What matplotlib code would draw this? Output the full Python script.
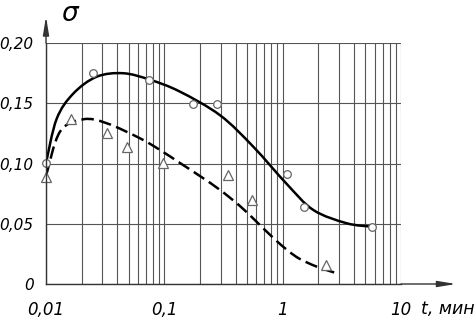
import numpy as np
import matplotlib
matplotlib.use("Agg")
import matplotlib.pyplot as plt
from matplotlib.path import Path
from matplotlib.patches import PathPatch
from matplotlib.ticker import FixedLocator, LogLocator, NullFormatter

# --- measured points (t, min ; sigma) ---
t_circles = [0.01, 0.0251, 0.0747, 0.173, 0.277, 1.08, 1.50, 5.67]
s_circles = [0.1005, 0.175, 0.1693, 0.149, 0.149, 0.091, 0.0637, 0.0476]

t_triangles = [0.01, 0.0162, 0.0326, 0.0481, 0.0981, 0.348, 0.548, 2.31]
s_triangles = [0.0885, 0.1367, 0.1256, 0.114, 0.1002, 0.0905, 0.0697, 0.0158]

# --- fitted curves ---
t_solid = [0.01, 0.0123, 0.0170, 0.0268, 0.0450, 0.0757, 0.1357, 0.296,
           0.565, 1.083, 1.818, 3.482, 5.67]
s_solid = [0.1004, 0.137, 0.158, 0.172, 0.1749, 0.1695, 0.1596, 0.140,
           0.1139, 0.083, 0.0614, 0.0504, 0.0476]

t_dashed = [0.01, 0.01313, 0.0207, 0.0326, 0.0623, 0.0920, 0.1357, 0.200,
            0.296, 0.436, 0.604, 0.834, 1.117, 1.403, 1.942, 2.866]
s_dashed = [0.0896, 0.1264, 0.1367, 0.1334, 0.1209, 0.1112, 0.1004, 0.0896,
            0.0780, 0.0647, 0.0515, 0.0382, 0.0274, 0.0207, 0.0144, 0.0089]

x_ticks = [0.01, 0.1, 1, 10]
x_labels = ["0,01", "0,1", "1", "10"]
y_ticks = [0, 0.05, 0.10, 0.15, 0.20]
y_labels = ["0", "0,05", "0,10", "0,15", "0,20"]


def smooth_path(t, s):
    # bezier through the read points, built in (log t, s) space
    u = np.log10(t)
    v = np.asarray(s)
    verts = [(u[0], v[0])]
    codes = [Path.MOVETO]
    n = len(u)
    for i in range(n - 1):
        i0, i3 = max(i - 1, 0), min(i + 2, n - 1)
        c1 = (u[i] + (u[i + 1] - u[i0]) / 6, v[i] + (v[i + 1] - v[i0]) / 6)
        c2 = (u[i + 1] - (u[i3] - u[i]) / 6, v[i + 1] - (v[i3] - v[i]) / 6)
        verts += [c1, c2, (u[i + 1], v[i + 1])]
        codes += [Path.CURVE4] * 3
    verts = [(10 ** a, b) for a, b in verts]
    return Path(verts, codes)


W, H = 477, 327
fig = plt.figure(figsize=(W / 100, H / 100), dpi=100)
ax = fig.add_axes([46 / W, (H - 284) / H, 355 / W, 241 / H])

font = dict(family="DejaVu Sans", style="italic")

ax.set_xscale("log")
ax.set_xlim(0.01, 10)
ax.set_ylim(0, 0.20)

ax.xaxis.set_major_locator(FixedLocator(x_ticks))
ax.xaxis.set_minor_locator(LogLocator(base=10, subs=np.arange(2, 10)))
ax.xaxis.set_minor_formatter(NullFormatter())
ax.set_xticklabels(x_labels, fontsize=12, **font)
ax.set_yticks(y_ticks)
ax.set_yticklabels(y_labels, fontsize=11, **font)
ax.tick_params(which="both", length=0)
ax.tick_params(axis="x", pad=12)
ax.tick_params(axis="y", pad=9)

ax.grid(True, which="both", color="#555555", linewidth=0.8)
ax.set_axisbelow(True)
for side in ["top", "right"]:
    ax.spines[side].set_visible(False)
for side in ["left", "bottom"]:
    ax.spines[side].set_color("#333333")
    ax.spines[side].set_linewidth(1.0)

# curves
ax.add_patch(PathPatch(smooth_path(t_solid, s_solid), fill=False,
                       edgecolor="black", lw=1.8))
ax.add_patch(PathPatch(smooth_path(t_dashed, s_dashed), fill=False,
                       edgecolor="black", lw=1.8, linestyle=(0, (5, 2.2))))

# points
ax.plot(t_circles, s_circles, "o", ms=5.5, mfc="white", mec="#666666", mew=0.9, clip_on=False)
ax.plot(t_triangles, s_triangles, "^", ms=7, mfc="white", mec="#666666", mew=0.9, clip_on=False)

# axis arrows
ax.annotate("", xy=(1.155, 0), xycoords="axes fraction", xytext=(1.0, 0),
            arrowprops=dict(arrowstyle="-|>,head_length=1.1,head_width=0.18",
                            color="#333333", lw=1.0, shrinkA=0, shrinkB=0))
ax.annotate("", xy=(0, 1.11), xycoords="axes fraction", xytext=(0, 1.0),
            arrowprops=dict(arrowstyle="-|>,head_length=1.1,head_width=0.18",
                            color="#333333", lw=1.0, shrinkA=0, shrinkB=0))

fig.text(70 / W, 1 - 14 / H, "σ", fontsize=19, ha="center", va="center", **font)
fig.text(475 / W, 1 - 309 / H, "t, мин", fontsize=12.5, ha="right", va="center", **font)

fig.savefig("out.png", dpi=100)
